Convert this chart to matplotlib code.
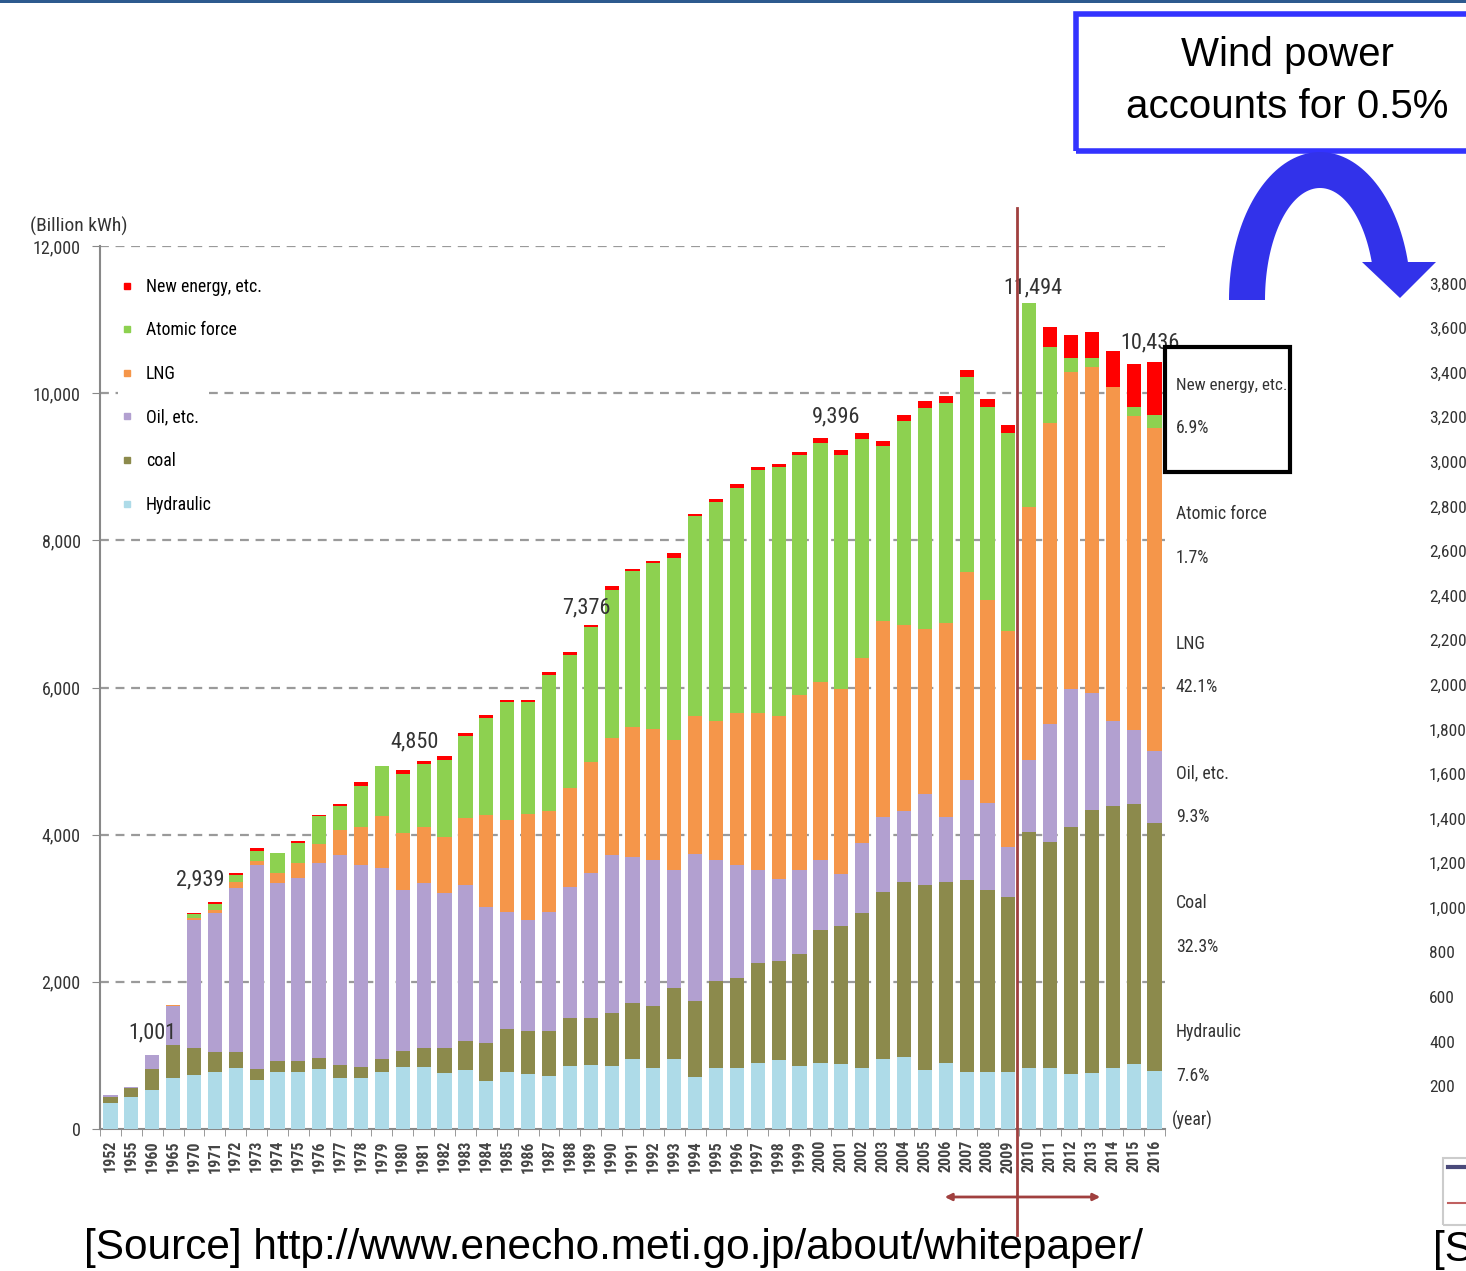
import matplotlib
matplotlib.use('Agg')
from matplotlib import pyplot as plt
from matplotlib import font_manager
from matplotlib.font_manager import FontProperties
from matplotlib.patches import Rectangle, Polygon
from matplotlib.lines import Line2D
import numpy as np

W, H = 1466, 1271

years = [1952, 1955, 1960, 1965] + list(range(1970, 2017))

hydraulic = [350, 440, 530, 690, 740, 780, 830, 666, 780, 780,
             816, 694, 694, 780, 848, 848, 760, 800, 650, 780,
             750, 726, 856, 868, 856, 945, 827, 956, 708, 827,
             827, 903, 933, 856, 903, 877, 835, 955, 981, 799,
             903, 773, 773, 773, 835, 835, 746, 762, 835, 877, 793]
coal = [90, 115, 285, 450, 360, 270, 210, 150, 150, 150,
        150, 176, 154, 172, 218, 252, 340, 400, 514, 579,
        578, 602, 649, 637, 720, 767, 844, 963, 1034, 1180,
        1222, 1358, 1352, 1523, 1800, 1880, 2104, 2261, 2375, 2521,
        2453, 2610, 2479, 2385, 3200, 3059, 3357, 3576, 3550, 3534, 3371]
oil = [20, 20, 186, 530, 1740, 1885, 2230, 2770, 2415, 2480,
       2650, 2856, 2742, 2598, 2184, 2245, 2109, 2120, 1848, 1594,
       1506, 1624, 1784, 1978, 2144, 1978, 1989, 1606, 1995, 1653,
       1535, 1264, 1110, 1146, 950, 710, 950, 1028, 966, 1237,
       888, 1357, 1175, 668, 976, 1613, 1874, 1592, 1164, 1007, 971]
lng = [0, 0, 0, 20, 30, 45, 80, 60, 135, 210,
       259, 340, 520, 700, 770, 765, 761, 900, 1252, 1252,
       1446, 1376, 1346, 1506, 1594, 1771, 1772, 1759, 1872, 1890,
       2066, 2125, 2214, 2379, 2420, 2506, 2516, 2656, 2528, 2243,
       2636, 2831, 2763, 2936, 3441, 4088, 4309, 4427, 4532, 4272, 4394]
atomic = [0, 0, 0, 0, 46, 80, 100, 130, 270, 260,
          374, 317, 555, 680, 808, 854, 1048, 1116, 1316, 1600,
          1524, 1842, 1800, 1830, 2007, 2126, 2255, 2480, 2716, 2970,
          3068, 3312, 3394, 3249, 3249, 3191, 2976, 2386, 2769, 2995,
          2991, 2643, 2620, 2700, 2778, 1038, 190, 119, 0, 120, 177]
new_energy = [0, 0, 0, 0, 20, 20, 30, 40, 0, 30,
              20, 37, 45, 0, 50, 41, 45, 44, 48, 29,
              29, 47, 48, 30, 55, 29, 35, 59, 29, 48,
              42, 41, 41, 41, 74, 57, 71, 62, 81, 95,
              96, 96, 109, 109, 0, 272, 319, 357, 490, 585, 720]

series_names = ['Hydraulic', 'coal', 'Oil, etc.', 'LNG', 'Atomic force', 'New energy, etc.']
series_colors = ['#aedbe8', '#8c8a4c', '#b2a0d0', '#f5964a', '#8dd150', '#ff0000']

label_years = [1960, 1970, 1980, 1990, 2000, 2010, 2016]
label_texts = ['1,001', '2,939', '4,850', '7,376', '9,396', '11,494', '10,436']
label_offsets = [(0, 12), (6, 23), (12, 18), (-25, -32), (16, 10), (4, 4), (-5, 8)]

share_names = ['Atomic force', 'LNG', 'Oil, etc.', 'Coal', 'Hydraulic']
share_values = ['1.7%', '42.1%', '9.3%', '32.3%', '7.6%']

right_ticks = [3800, 3600, 3400, 3200, 3000, 2800, 2600, 2400, 2200, 2000,
               1800, 1600, 1400, 1200, 1000, 800, 600, 400, 200]

SANS = ['Liberation Sans', 'DejaVu Sans']


def narrow_font():
    # the chart text is set in a narrow face; use the narrowest one installed
    names = {f.name for f in font_manager.fontManager.ttflist}
    for name in ['Liberation Sans Narrow', 'Roboto Condensed', 'Open Sans Condensed',
                 'DejaVu Sans Condensed']:
        if name in names:
            return {'family': name, 'stretch': 'normal'}, 1.0
    for f in font_manager.fontManager.ttflist:
        if f.name == 'DejaVu Sans' and f.stretch == 'condensed':
            return {'family': 'DejaVu Sans', 'stretch': 'condensed'}, 0.95
    return {'family': 'Liberation Sans', 'stretch': 'normal'}, 0.9


NF, SCALE = narrow_font()


def nf(size, **extra):
    return dict(fontfamily=NF['family'], fontstretch=NF['stretch'],
                fontsize=size * SCALE, **extra)


def px(x, y):
    return x / W, 1 - y / H


def arc_arrow(fig, color):
    cx, cy = 1320, 300
    t_out = np.linspace(np.pi, np.radians(14.5), 80)
    t_in = np.linspace(np.radians(19), np.pi, 80)
    pts = [px(cx + 91 * np.cos(t), cy - 148 * np.sin(t)) for t in t_out]
    pts += [px(cx + 55 * np.cos(t), cy - 112 * np.sin(t)) for t in t_in]
    fig.add_artist(Polygon(pts, closed=True, transform=fig.transFigure, color=color, lw=0))
    head = [px(1362, 262), px(1436, 262), px(1400, 298)]
    fig.add_artist(Polygon(head, closed=True, transform=fig.transFigure, color=color, lw=0))


def plot(filename):
    fig = plt.figure(figsize=(W / 100, H / 100), dpi=100)
    fig.patch.set_facecolor('white')
    fig.add_artist(Rectangle((0, 1 - 3 / H), 1, 3 / H, transform=fig.transFigure,
                             color='#2d5a8e', lw=0))

    ax = fig.add_axes([100 / W, 1 - 1129 / H, 1065 / W, 883 / H])
    x = np.arange(len(years))
    stacks = [hydraulic, coal, oil, lng, atomic, new_energy]
    bottom = np.zeros(len(years))
    for values, name, color in zip(stacks, series_names, series_colors):
        ax.bar(x, values, bottom=bottom, width=0.68, color=color, label=name, zorder=3)
        bottom += np.array(values)

    ax.set_xlim(-0.48, len(years) - 0.52)
    ax.set_ylim(0, 12000)

    for level in range(2000, 12001, 2000):
        ax.axhline(level, color='#9a9a9a', lw=1.6, ls=(0, (4, 3)), zorder=1)
    ax.add_patch(Rectangle((0.017, 10000 - 150), 0.085, 300, transform=ax.get_yaxis_transform(),
                           color='white', lw=0, zorder=2))

    for side in ['top', 'right']:
        ax.spines[side].set_visible(False)
    for side in ['left', 'bottom']:
        ax.spines[side].set_color('#888888')
        ax.spines[side].set_linewidth(1.5)

    ax.set_yticks(range(0, 12001, 2000))
    ax.set_yticklabels([f'{v:,}' for v in range(0, 12001, 2000)], **nf(13, color='#333333'))
    ax.tick_params(axis='y', length=6, color='#888888', pad=8)

    ax.set_xticks(x)
    ax.set_xticklabels([str(y) for y in years], rotation=90,
                       **nf(11.5, fontweight='bold', color='#444444'))
    ax.set_xticks(np.arange(-0.5, len(years), 1), minor=True)
    ax.tick_params(axis='x', which='major', length=0, pad=8)
    ax.tick_params(axis='x', which='minor', length=5, color='#888888')

    totals = bottom
    for year, text, (dx, dy) in zip(label_years, label_texts, label_offsets):
        i = years.index(year)
        ax.annotate(text, xy=(i, totals[i]), xytext=(dx, dy), textcoords='offset pixels',
                    ha='center', va='bottom', zorder=5, **nf(16, color='#333333'))

    handles = [Line2D([], [], marker='s', ls='none', markersize=5, color=c)
               for c in series_colors[::-1]]
    prop = FontProperties(family=NF['family'], stretch=NF['stretch'], size=12.8 * SCALE)
    ax.legend(handles, series_names[::-1], loc='upper left', bbox_to_anchor=(0.002, 0.982),
              frameon=False, prop=prop, labelspacing=1.44 / SCALE,
              handlelength=1.0, handletextpad=0.55)

    # vertical divider and range arrow
    divider = len(years) - 7.6
    ax.plot([divider, divider], [-0.12, 1.043], transform=ax.get_xaxis_transform(),
            color='#a0403f', lw=2, clip_on=False, zorder=6)
    ax.annotate('', xy=(47.4, -0.077), xytext=(39.95, -0.077),
                xycoords=ax.get_xaxis_transform(),
                arrowprops=dict(arrowstyle='<|-|>', color='#a0403f', lw=2,
                                mutation_scale=10, shrinkA=0, shrinkB=0),
                annotation_clip=False)

    fig.text(*px(30, 226), '(Billion kWh)', va='center', **nf(14, color='#333333'))

    # shares of the last year
    fig.add_artist(Rectangle(px(1165, 472), 125 / W, 125 / H, transform=fig.transFigure,
                             fill=False, ec='black', lw=3))
    fig.text(*px(1176, 385), 'New energy, etc.', va='center', **nf(12.3, color='#333333'))
    fig.text(*px(1176, 428), '6.9%', va='center', **nf(12.8, color='#333333'))
    for k, (name, value) in enumerate(zip(share_names, share_values)):
        y0 = 514 + k * 129.5
        fig.text(*px(1176, y0), name, va='center', **nf(12.8, color='#333333'))
        fig.text(*px(1176, y0 + 44), value, va='center', **nf(12.8, color='#333333'))
    fig.text(*px(1172, 1120), '(year)', va='center', **nf(12.8, color='#333333'))

    # wind power call-out
    fig.add_artist(Rectangle(px(1076, 151), 400 / W, 137 / H, transform=fig.transFigure,
                             fill=False, ec='#3333ff', lw=4))
    fig.text(*px(1287, 55), 'Wind power', family=SANS, fontsize=29, ha='center', va='center')
    fig.text(*px(1287, 107), 'accounts for 0.5%', family=SANS, fontsize=29,
             ha='center', va='center')
    arc_arrow(fig, '#3232ea')

    # edge of the neighbouring chart
    for k, tick in enumerate(right_ticks):
        fig.text(*px(1429, 285 + k * 44.6), f'{tick:,}', va='center',
                 **nf(12.5, color='#333333'))
    fig.add_artist(Rectangle(px(1443, 1225), 40 / W, 67 / H, transform=fig.transFigure,
                             fill=False, ec='#cccccc', lw=1.5))
    fig.add_artist(Line2D([1448 / W, 1.01], [1 - 1167 / H] * 2, transform=fig.transFigure,
                          color='#4a4a7a', lw=3))
    fig.add_artist(Line2D([1448 / W, 1.01], [1 - 1203 / H] * 2, transform=fig.transFigure,
                          color='#c06060', lw=1.5))
    fig.text(*px(1433, 1250), '[Source]', family=SANS, fontsize=30.5, va='center')

    fig.text(*px(84, 1248), '[Source] http://www.enecho.meti.go.jp/about/whitepaper/',
             family=SANS, fontsize=30.5, va='center')

    fig.savefig(filename, dpi=100)
    plt.close(fig)


def main():
    plot('out.png')


if __name__ == '__main__':
    main()
